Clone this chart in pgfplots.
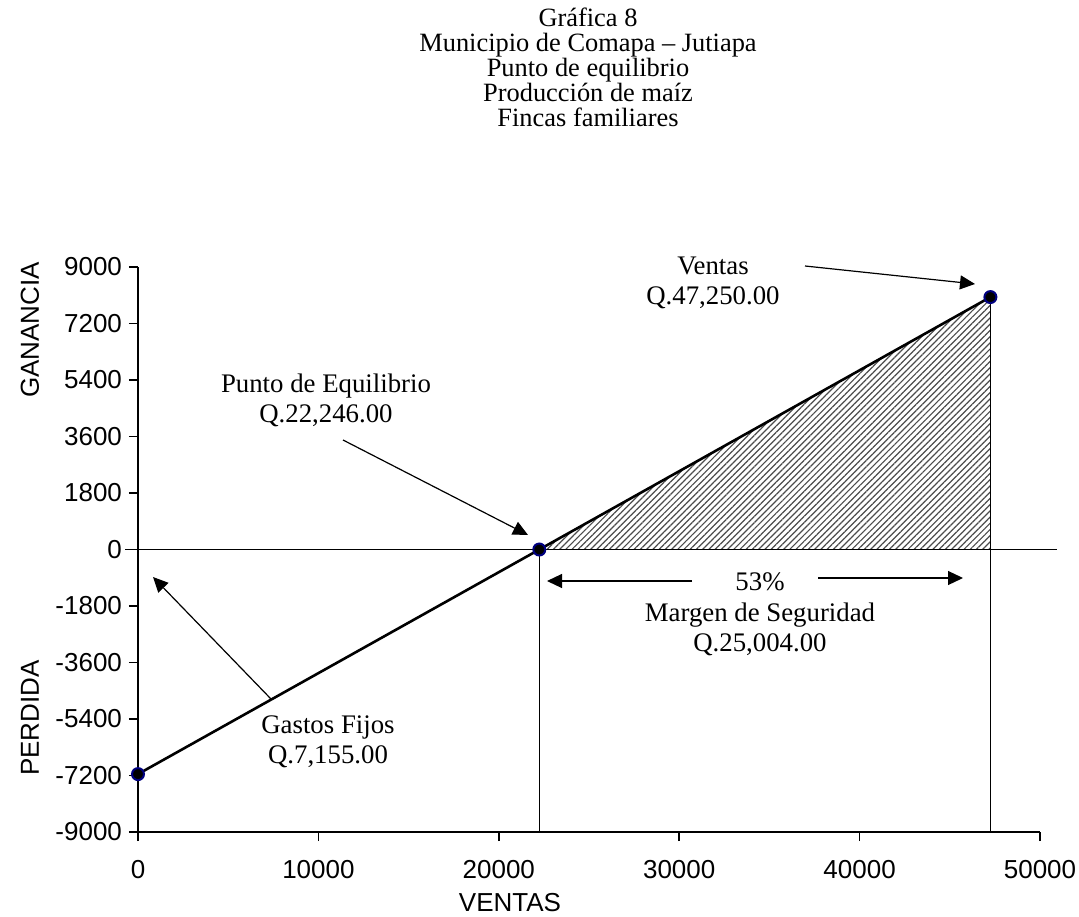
\documentclass[border=0pt]{standalone}
\usepackage{fontspec}
\setmainfont{Liberation Serif}
\newfontfamily\arial{Liberation Sans}
\usepackage{pgfplots}
\pgfplotsset{compat=1.18}
\usetikzlibrary{patterns.meta,arrows.meta}
\definecolor{navy}{RGB}{0,0,128}
\newcommand\ann{\fontsize{13.4}{15}\selectfont}
\newcommand\ttl{\fontsize{13.2}{12.5}\selectfont}
\begin{document}
\begin{tikzpicture}
\path[use as bounding box] (-69pt,-42pt) rectangle (470.5pt,416pt);
\begin{axis}[
  at={(0,0)}, anchor=south west, scale only axis,
  width=451pt, height=282.5pt,
  xmin=0, xmax=50000, ymin=-9000, ymax=9000,
  axis x line*=bottom, axis y line*=left,
  axis line style={black, line width=0.8pt, -},
  xtick={0,10000,20000,30000,40000,50000},
  ytick={-9000,-7200,-5400,-3600,-1800,0,1800,3600,5400,7200,9000},
  tick align=outside, major tick length=4.5pt,
  tick style={black, line width=0.8pt},
  scaled ticks=false,
  /pgf/number format/1000 sep={},
  /pgf/number format/assume math mode=true,
  ticklabel style={font=\arial\fontsize{13}{13}\selectfont},
  xticklabel style={yshift=-6pt},
  clip=false,
]
\addplot[draw=none, pattern={Lines[angle=45,distance=2.2pt,line width=0.6pt]}, pattern color=black!70]
  coordinates {(22246,0) (47250,8042) (47250,0)} -- cycle;
\addplot[black, line width=0.8pt] coordinates {(-700,0) (50950,0)};
\addplot[black, line width=0.8pt] coordinates {(22246,0) (22246,-9000)};
\addplot[black, line width=0.8pt] coordinates {(47250,8042) (47250,-9000)};
\addplot[black, line width=1.3pt] coordinates {(0,-7155) (22246,0) (47250,8042)};
\addplot[only marks, mark=*, mark size=3pt, mark options={fill=black, draw=navy, line width=1pt}]
  coordinates {(0,-7155) (22246,0) (47250,8042)};
\end{axis}
% title
\node[font=\ttl, anchor=base] at (225pt,402.5pt) {Gráfica 8};
\node[font=\ttl, anchor=base] at (225pt,390pt) {Municipio de Comapa – Jutiapa};
\node[font=\ttl, anchor=base] at (225pt,377.5pt) {Punto de equilibrio};
\node[font=\ttl, anchor=base] at (225pt,365pt) {Producción de maíz};
\node[font=\ttl, anchor=base] at (225pt,352.5pt) {Fincas familiares};
% axis labels
\node[font=\arial\fontsize{13}{13}\selectfont, rotate=90] at (-54pt,251pt) {GANANCIA};
\node[font=\arial\fontsize{13}{13}\selectfont, rotate=90] at (-54pt,57pt) {PERDIDA};
\node[font=\arial\fontsize{13}{13}\selectfont] at (186pt,-35.5pt) {VENTAS};
% annotations
\node[font=\ann, anchor=base] at (287.5pt,278.5pt) {Ventas};
\node[font=\ann, anchor=base] at (287.5pt,263.5pt) {Q.47,250.00};
\node[font=\ann, anchor=base] at (94pt,219.5pt) {Punto de Equilibrio};
\node[font=\ann, anchor=base] at (94pt,204.5pt) {Q.22,246.00};
\node[font=\ann, anchor=base] at (311pt,121pt) {53\%};
\node[font=\ann, anchor=base] at (311pt,105.5pt) {Margen de Seguridad};
\node[font=\ann, anchor=base] at (311pt,90.5pt) {Q.25,004.00};
\node[font=\ann, anchor=base] at (95pt,49.5pt) {Gastos Fijos};
\node[font=\ann, anchor=base] at (95pt,34.5pt) {Q.7,155.00};
\begin{scope}[line width=0.6pt, -{Triangle[length=7.5pt,width=7pt]}]
\draw (333.5pt,283pt) -- (418.5pt,274pt);
\draw (102.5pt,196pt) -- (195pt,148.5pt);
\draw (66.5pt,66.5pt) -- (7.5pt,127.5pt);
\draw (277pt,125.5pt) -- (204.5pt,125.5pt);
\draw (340pt,127pt) -- (412.5pt,127pt);
\end{scope}
\end{tikzpicture}
\end{document}
